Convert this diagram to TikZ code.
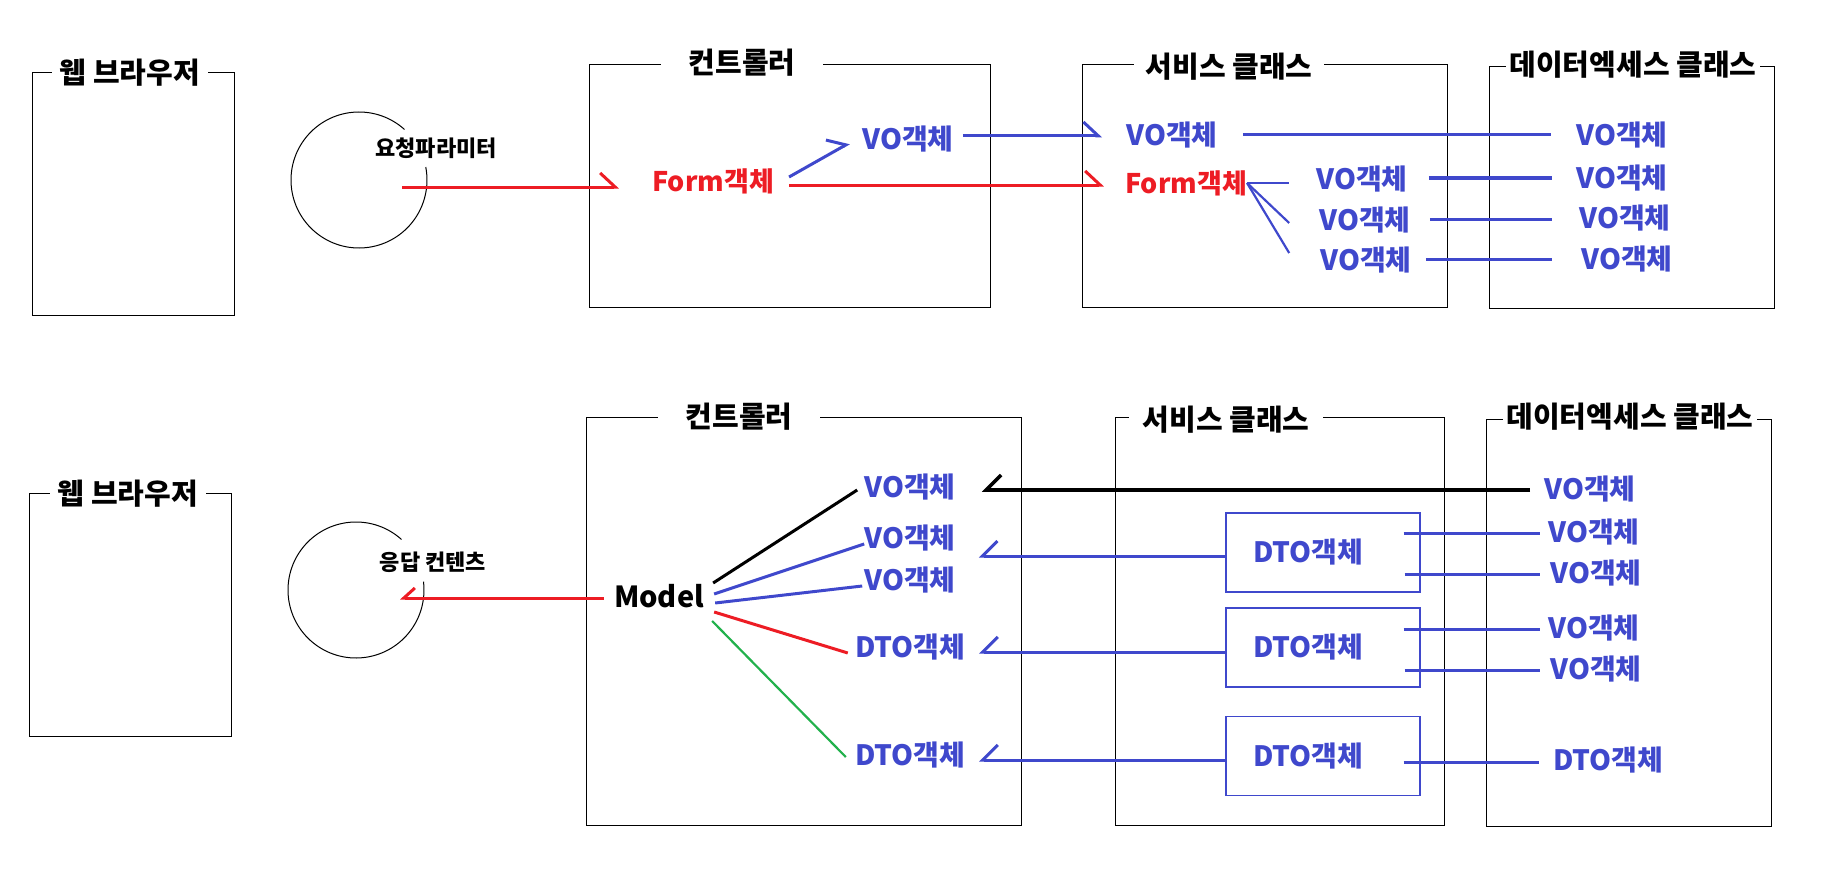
\documentclass[tikz,border=0pt]{standalone}
\usepackage{fontspec}
\setmainfont{Noto Sans CJK KR}
\usetikzlibrary{arrows.meta}

\definecolor{pred}{HTML}{ED1C24}
\definecolor{pblue}{HTML}{3F48CC}
\definecolor{pgreen}{HTML}{22B14C}

\newcommand{\fnttitle}{\fontsize{29}{33}\selectfont\bfseries}
\newcommand{\fntobj}{\fontsize{28}{32}\selectfont\bfseries}
\newcommand{\fntform}{\fontsize{27}{31}\selectfont\bfseries}
\newcommand{\fntmodel}{\fontsize{29}{33}\selectfont\bfseries}
\newcommand{\fntsmall}{\fontsize{22}{26}\selectfont\bfseries}

\tikzset{
  frame/.style 2 args={draw, line width=1.2pt, anchor=north west, minimum width=#1, minimum height=#2},
  title/.style={fill=white, inner ysep=2pt, inner xsep=#1, font=\fnttitle},
  title/.default=8pt,
  obj/.style={inner sep=0pt, font=\fntobj, text=pblue},
  form/.style={inner sep=0pt, font=\fntform, text=pred},
  dtobox/.style={draw=pblue, line width=1.2pt, minimum width=194pt, minimum height=79pt},
  conn/.style={pblue, line width=3pt},
  fork/.style={pblue, line width=2.2pt},
  barbup/.style={-{Straight Barb[left, length=15pt, width=28pt]}},
  barbback/.style={-{Straight Barb[right, length=15pt, width=30pt]}}
}

\begin{document}
\begin{tikzpicture}[x=1pt, y=-1pt]
        \useasboundingbox (0,0) rectangle (1845,880);

        % request
        \node[frame={202pt}{243pt}] (web1) at (32,72) {};
        \node[frame={401pt}{243pt}] (ctrl1) at (589,64) {};
        \node[frame={365pt}{243pt}] (svc1) at (1082,64) {};
        \node[frame={285pt}{242pt}] (dao1) at (1489,66) {};
        \node[title] (web1t) at (130,73) {웹 브라우저};
        \node[title=28pt] (ctrl1t) at (742,63) {컨트롤러};
        \node[title=12pt] (svc1t) at (1229,67) {서비스 클래스};
        \node[title=4pt] (dao1t) at (1633,65) {데이터엑세스 클래스};

        \coordinate (reqc) at (359,180);
        \draw[line width=1pt] (reqc) ++(-48:68) arc[start angle=-48, end angle=-371, radius=68];
        \node[inner sep=0pt, font=\fntsmall] (reqt) at (436,148) {요청파라미터};

        \node[form] (form1) at (713,181) {Form객체};
        \node[obj] (vo1) at (908,139) {VO객체};
        \node[obj] (svo) at (1172,135) {VO객체};
        \node[form] (sform) at (1186,183) {Form객체};
        \node[obj] (svoa) at (1362,179) {VO객체};
        \node[obj] (svob) at (1365,220) {VO객체};
        \node[obj] (svoc) at (1366,260) {VO객체};
        \node[obj] (dvo1) at (1622,135) {VO객체};
        \node[obj] (dvo2) at (1622,178) {VO객체};
        \node[obj] (dvo3) at (1625,218) {VO객체};
        \node[obj] (dvo4) at (1627,259) {VO객체};

        \draw[pred, line width=3pt, barbup] ([shift={(43,7)}]reqc) -- ([shift={(-33,6)}]form1.west);
        \draw[conn, barbup] ([shift={(15,-4)}]form1.east) -- ([shift={(-13,4)}]vo1.west);
        \draw[pred, line width=3pt, barbup] ([shift={(15,4)}]form1.east) -- ([shift={(-21,2)}]sform.west);
        \draw[conn, barbup] ([shift={(9,-3)}]vo1.east) -- ([shift={(-24,1)}]svo.west);
        \draw[conn] ([shift={(25,0)}]svo.east) -- ([shift={(-25,0)}]dvo1.west);
        \draw[fork] (sform.east) -- ([shift={(-27,4)}]svoa.west);
        \draw[fork] (sform.east) -- ([shift={(-30,3)}]svob.west);
        \draw[fork] (sform.east) -- ([shift={(-31,-7)}]svoc.west);
        \draw[conn] ([shift={(21,-1)}]svoa.east) -- ([shift={(-24,0)}]dvo2.west);
        \draw[conn] ([shift={(19,-1)}]svob.east) -- ([shift={(-27,1)}]dvo3.west);
        \draw[conn] ([shift={(14,-1)}]svoc.east) -- ([shift={(-29,0)}]dvo4.west);

        % response
        \node[frame={202pt}{243pt}] (web2) at (29,493) {};
        \node[frame={435pt}{408pt}] (ctrl2) at (586,417) {};
        \node[frame={329pt}{408pt}] (svc2) at (1115,417) {};
        \node[frame={285pt}{407pt}] (dao2) at (1486,419) {};
        \node[title] (web2t) at (128,494) {웹 브라우저};
        \node[title=28pt] (ctrl2t) at (739,417) {컨트롤러};
        \node[title=14pt] (svc2t) at (1226,420) {서비스 클래스};
        \node[title=4pt] (dao2t) at (1630,417) {데이터엑세스 클래스};

        \coordinate (resc) at (356,590);
        \draw[line width=1pt] (resc) ++(-48:68) arc[start angle=-48, end angle=-367, radius=68];
        \node[inner sep=0pt, font=\fntsmall] (rest) at (433,562) {응답 컨텐츠};

        \node[inner sep=0pt, font=\fntmodel] (model) at (659,596) {Model};
        \node[obj] (cvo1) at (910,487) {VO객체};
        \node[obj] (cvo2) at (910,538) {VO객체};
        \node[obj] (cvo3) at (910,580) {VO객체};
        \node[obj] (cdto1) at (910,647) {DTO객체};
        \node[obj] (cdto2) at (910,755) {DTO객체};
        \node[dtobox] (dtoa) at (1323,552.5) {};
        \node[dtobox] (dtob) at (1323,647.5) {};
        \node[dtobox] (dtoc) at (1323,756) {};
        \node[obj] (dtoat) at ([xshift=-15pt]dtoa.center) {DTO객체};
        \node[obj] (dtobt) at ([xshift=-15pt]dtob.center) {DTO객체};
        \node[obj] (dtoct) at ([xshift=-15pt]dtoc.center) {DTO객체};
        \node[obj] (dvo1b) at (1590,489) {VO객체};
        \node[obj] (dvo2b) at (1594,532) {VO객체};
        \node[obj] (dvo3b) at (1596,573) {VO객체};
        \node[obj] (dvo4b) at (1594,628) {VO객체};
        \node[obj] (dvo5b) at (1596,669) {VO객체};
        \node[obj] (ddto) at (1608,760) {DTO객체};

        \draw[pred, line width=3pt, -{Straight Barb[right, length=11pt, width=20pt]}] ([shift={(-10,2)}]model.west) -- ([shift={(44,8)}]resc);
        \draw[line width=3pt] ([shift={(9,-13)}]model.east) -- ([shift={(-7,3)}]cvo1.west);
        \draw[conn] ([shift={(10,-2)}]model.east) -- ([shift={(0,6)}]cvo2.west);
        \draw[conn] ([shift={(11,7)}]model.east) -- ([shift={(-2,6)}]cvo3.west);
        \draw[pred, line width=3pt] ([shift={(10,16)}]model.east) -- ([shift={(-7,6)}]cdto1.west);
        \draw[pgreen, line width=2.2pt] ([shift={(8,25)}]model.east) -- ([shift={(-9,2)}]cdto2.west);

        \draw[line width=3.5pt, barbback] ([shift={(-14,1)}]dvo1b.west) -- ([shift={(26,3)}]cvo1.east);
        \draw[conn, barbback] ([shift={(0,3.5)}]dtoa.west) -- ([shift={(23,18)}]cvo2.east);
        \draw[conn, barbback] ([shift={(0,4.5)}]dtob.west) -- ([shift={(14,5)}]cdto1.east);
        \draw[conn, barbback] ([shift={(0,4)}]dtoc.west) -- ([shift={(14,5)}]cdto2.east);

        \draw[conn] ([shift={(-17,-19.5)}]dtoa.east) -- ([shift={(-8,1)}]dvo2b.west);
        \draw[conn] ([shift={(-16,21.5)}]dtoa.east) -- ([shift={(-10,1)}]dvo3b.west);
        \draw[conn] ([shift={(-17,-18.5)}]dtob.east) -- ([shift={(-8,1)}]dvo4b.west);
        \draw[conn] ([shift={(-16,22.5)}]dtob.east) -- ([shift={(-10,1)}]dvo5b.west);
        \draw[conn] ([shift={(-17,6)}]dtoc.east) -- ([shift={(-14,2)}]ddto.west);

\end{tikzpicture}
\end{document}
